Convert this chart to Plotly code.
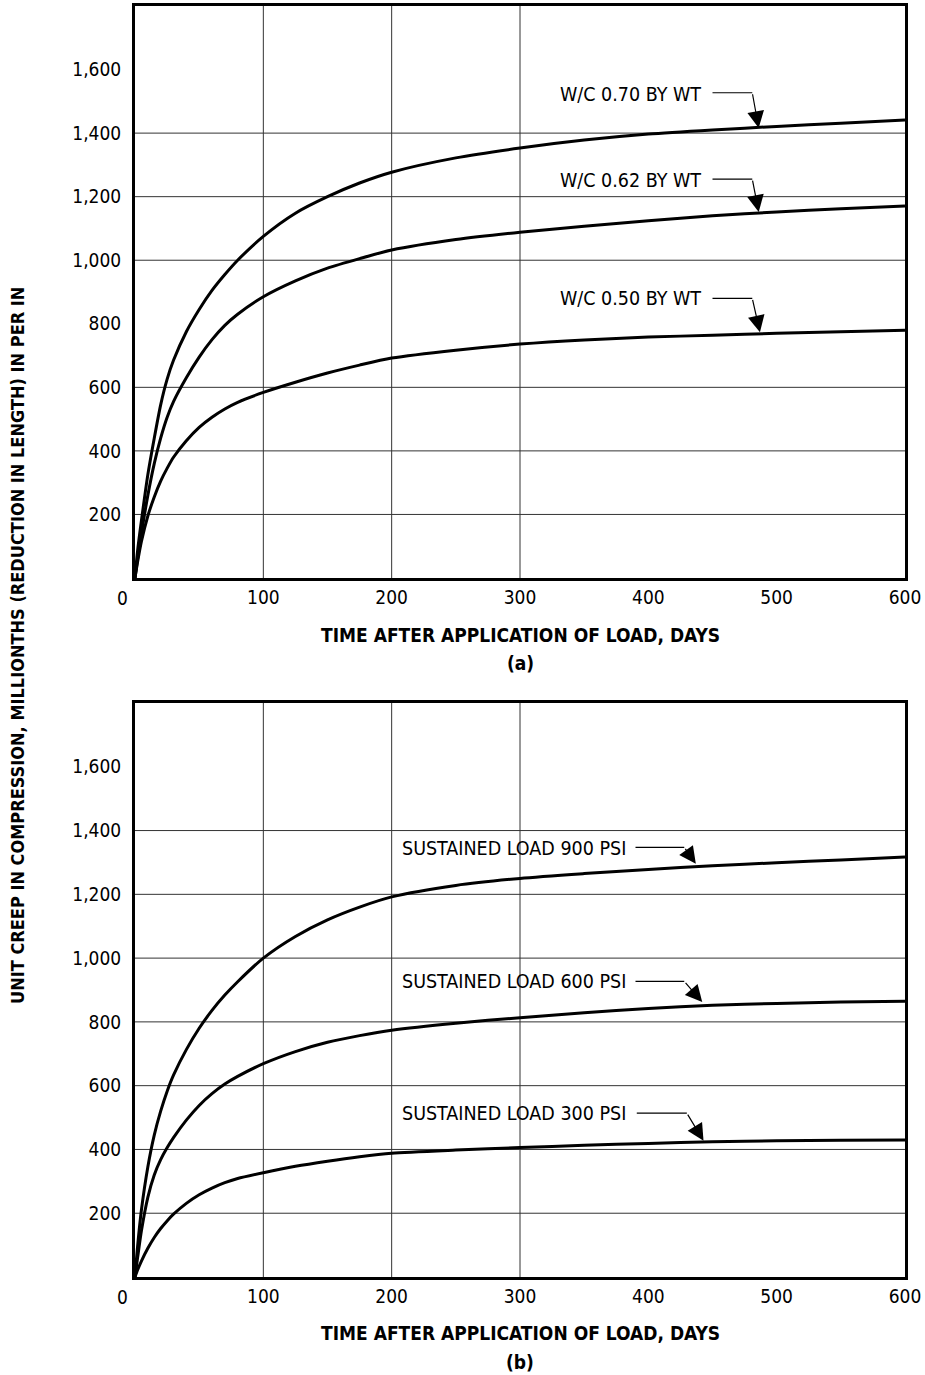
import plotly.graph_objects as go

# ---------------- data ----------------
DAYS = [0, 2, 5, 10, 15, 20, 25, 30, 40, 50, 60, 70, 80, 100, 125, 150, 175,
        200, 250, 300, 350, 400, 450, 500, 550, 600]

# (a) water-cement ratio curves
WC_070 = [0, 85, 180, 325, 440, 545, 625, 685, 775, 845, 905, 955, 1000, 1075, 1148,
          1200, 1243, 1277, 1322, 1353, 1378, 1397, 1410, 1421, 1431, 1441]
WC_062 = [0, 60, 140, 260, 360, 440, 505, 555, 630, 695, 750, 795, 830, 885, 935,
          975, 1005, 1032, 1065, 1088, 1107, 1124, 1140, 1152, 1162, 1171]
WC_050 = [0, 50, 115, 195, 255, 305, 345, 380, 432, 474, 506, 532, 553, 584, 616,
          645, 670, 692, 717, 736, 749, 758, 764, 770, 775, 780]

# (b) sustained load curves
LOAD_900 = [0, 95, 210, 345, 445, 520, 582, 633, 713, 780, 836, 884, 926, 1000, 1068,
            1120, 1160, 1192, 1228, 1250, 1265, 1278, 1290, 1299, 1308, 1317]
LOAD_600 = [0, 60, 145, 250, 320, 368, 405, 437, 492, 538, 575, 605, 629, 669, 707,
            736, 757, 774, 796, 813, 829, 842, 852, 858, 862, 865]
LOAD_300 = [0, 22, 50, 90, 124, 152, 176, 197, 231, 258, 279, 296, 309, 327, 347,
            363, 377, 388, 398, 406, 413, 419, 424, 427, 429, 430]

LABELS_A = ["W/C 0.70 BY WT", "W/C 0.62 BY WT", "W/C 0.50 BY WT"]
LABELS_B = ["SUSTAINED LOAD 900 PSI", "SUSTAINED LOAD 600 PSI", "SUSTAINED LOAD 300 PSI"]

X_TICKS = [0, 100, 200, 300, 400, 500, 600]
Y_TICKS = [200, 400, 600, 800, 1000, 1200, 1400, 1600]
Y_TICKTEXT = ["200", "400", "600", "800", "1,000", "1,200", "1,400", "1,600"]
GRID_X = [100, 200, 300]
GRID_Y_A = [200, 400, 600, 1000, 1200, 1400]
GRID_Y_B = [200, 400, 600, 800, 1000, 1200, 1400]

X_TITLE = "TIME AFTER APPLICATION OF LOAD, DAYS"
Y_TITLE = "UNIT CREEP IN COMPRESSION, MILLIONTHS (REDUCTION IN LENGTH) IN PER IN"
PANEL_TAGS = ["(a)", "(b)"]

# ---------------- styling ----------------
FONT = "Liberation Sans Narrow, Arial Narrow, DejaVu Sans Condensed, sans-serif"
W, H = 925, 1375
X0, X1 = 135, 905
TOP_A, BOT_A = 6, 578
TOP_B, BOT_B = 703, 1277
TICK_SIZE = 19
LABEL_SIZE = 19.5
TITLE_SIZE = 19


def py(p):
    return 1 - p / H


fig = go.Figure()

line_style = dict(color="black", width=3, shape="spline", smoothing=0.7)
for vals, name in zip([WC_070, WC_062, WC_050], LABELS_A):
    fig.add_trace(go.Scatter(x=DAYS, y=vals, mode="lines", name=name, line=line_style,
                             xaxis="x", yaxis="y", showlegend=False))
for vals, name in zip([LOAD_900, LOAD_600, LOAD_300], LABELS_B):
    fig.add_trace(go.Scatter(x=DAYS, y=vals, mode="lines", name=name, line=line_style,
                             xaxis="x2", yaxis="y2", showlegend=False))

axis_common = dict(range=[0, 600], showgrid=False, zeroline=False, showline=True,
                   linecolor="black", linewidth=3, mirror=True, ticks="", automargin=False,
                   tickfont=dict(family=FONT, size=TICK_SIZE, color="black"),
                   tickvals=X_TICKS[1:], ticktext=[str(v) for v in X_TICKS[1:]],
                   ticklabelstandoff=0, fixedrange=True)
yaxis_common = dict(range=[0, 1800], showgrid=False, zeroline=False, showline=True,
                    linecolor="black", linewidth=3, mirror=True, ticks="", automargin=False,
                    tickfont=dict(family=FONT, size=TICK_SIZE, color="black"),
                    tickvals=Y_TICKS, ticktext=Y_TICKTEXT, ticklabelstandoff=7,
                    fixedrange=True)

fig.update_layout(
    template="none",
    width=W, height=H, autosize=False, margin=dict(l=0, r=0, t=0, b=0, pad=0),
    paper_bgcolor="white", plot_bgcolor="white",
    xaxis=dict(domain=[X0 / W, X1 / W], anchor="y", **axis_common),
    yaxis=dict(domain=[py(BOT_A), py(TOP_A)], anchor="x", **yaxis_common),
    xaxis2=dict(domain=[X0 / W, X1 / W], anchor="y2", **axis_common),
    yaxis2=dict(domain=[py(BOT_B), py(TOP_B)], anchor="x2", **yaxis_common),
)

shapes = []
annotations = []
for (xr, yr), grid_y in ((("x", "y"), GRID_Y_A), (("x2", "y2"), GRID_Y_B)):
    for gx in GRID_X:
        shapes.append(dict(type="line", xref=xr, yref=yr, x0=gx, x1=gx, y0=0, y1=1800,
                           line=dict(color="#333", width=1), layer="below"))
    for gy in grid_y:
        shapes.append(dict(type="line", xref=xr, yref=yr, x0=0, x1=600, y0=gy, y1=gy,
                           line=dict(color="#333", width=1), layer="below"))
    # the "0" x tick label, set slightly left of the axis corner
    annotations.append(dict(xref=xr, yref=yr, x=X_TICKS[0], y=0, text=str(X_TICKS[0]),
                            showarrow=False, xshift=-13, yshift=-20, xanchor="center",
                            yanchor="middle", font=dict(family=FONT, size=TICK_SIZE, color="black")))

# curve labels with leader lines and arrows:
# (text_right_x, text_y, line_x0, line_x1, line_y, tip_x, tip_y)
label_pos_a = [(442, 1523, 450, 481, 1527, 486, 1416),
               (442, 1252, 450, 481, 1255, 486, 1152),
               (442, 881, 450, 481, 880, 487, 773)]
label_pos_b = [(383, 1344, 390, 428, 1347, 437, 1296),
               (383, 927, 390, 428, 927, 442, 862),
               (383, 514, 391, 430, 514, 443, 427)]

for (xr, yr), labels, poss in ((("x", "y"), LABELS_A, label_pos_a),
                               (("x2", "y2"), LABELS_B, label_pos_b)):
    for text, (tx, ty, lx0, lx1, ly, ax_, ay_) in zip(labels, poss):
        annotations.append(dict(xref=xr, yref=yr, x=tx, y=ty, text=text, showarrow=False,
                                xanchor="right", yanchor="middle", borderpad=0,
                                font=dict(family=FONT, size=LABEL_SIZE, color="black")))
        shapes.append(dict(type="line", xref=xr, yref=yr, x0=lx0, x1=lx1, y0=ly, y1=ly,
                           line=dict(color="black", width=1.2)))
        annotations.append(dict(xref=xr, yref=yr, x=ax_, y=ay_, text="", showarrow=True,
                                axref=xr, ayref=yr, ax=lx1, ay=ly, arrowhead=2,
                                arrowsize=2.8, arrowwidth=1.2, arrowcolor="black",
                                standoff=0, startstandoff=0))

# axis titles and panel tags
xc = (X0 + X1) / 2 / W
for ty, tagy, tag in ((635, 663, PANEL_TAGS[0]), (1333, 1362, PANEL_TAGS[1])):
    annotations.append(dict(xref="paper", yref="paper", x=xc, y=py(ty), text="<b>" + X_TITLE + "</b>",
                            showarrow=False, xanchor="center", yanchor="middle",
                            font=dict(family=FONT, size=TITLE_SIZE, color="black")))
    annotations.append(dict(xref="paper", yref="paper", x=xc, y=py(tagy), text="<b>" + tag + "</b>",
                            showarrow=False, xanchor="center", yanchor="middle",
                            font=dict(family=FONT, size=TITLE_SIZE, color="black")))

annotations.append(dict(xref="paper", yref="paper", x=17 / W, y=py(646), text="<b>" + Y_TITLE + "</b>",
                        showarrow=False, textangle=-90, xanchor="center", yanchor="middle",
                        font=dict(family=FONT, size=18, color="black")))

fig.update_layout(shapes=shapes, annotations=annotations)
fig.write_html("out.html", config={"responsive": False},
               post_script="document.body.style.margin='0';document.body.style.overflow='hidden';")
